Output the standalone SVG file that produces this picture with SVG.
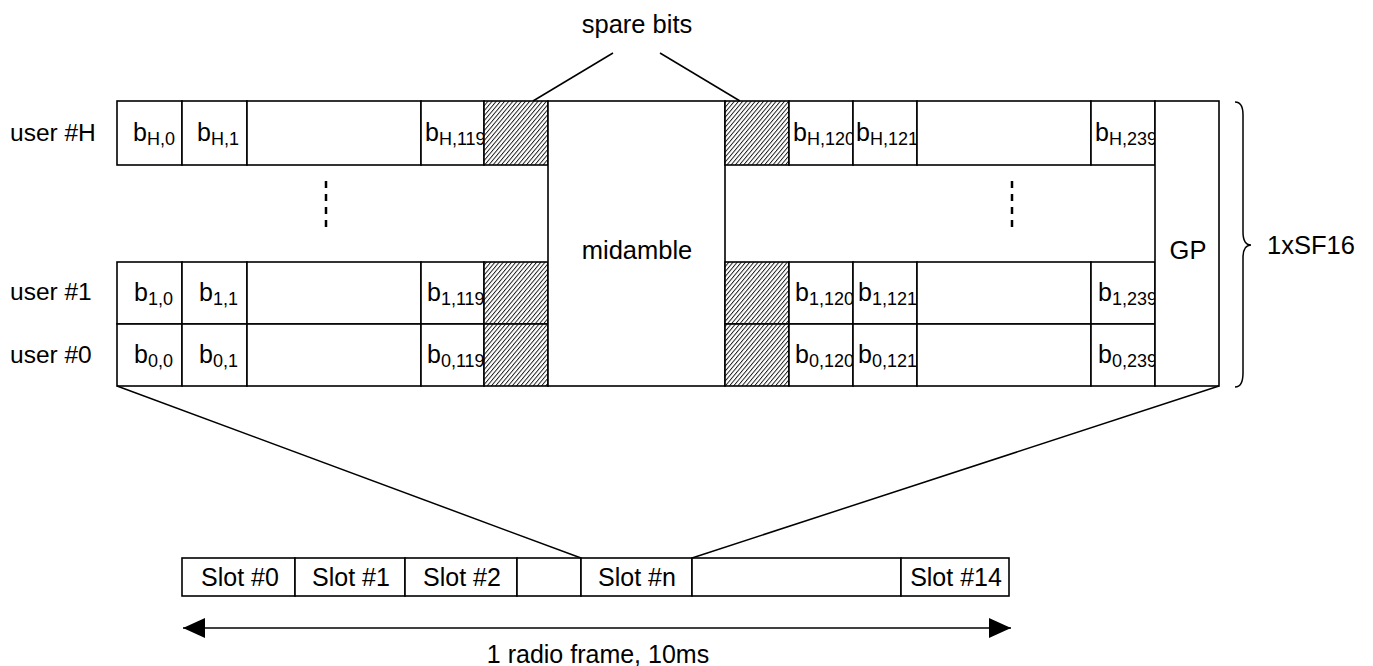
<svg xmlns="http://www.w3.org/2000/svg" width="1373" height="666" viewBox="0 0 1373 666">
<style>
text { font-family: "Liberation Sans", Arial, sans-serif; font-size: 25.5px; fill: #000; }
.u { font-size: 24.5px; }
.s { font-size: 25px; }
.b { font-size: 25px; }
.sub { font-size: 18px; }
.box { fill: #fff; stroke: #000; stroke-width: 1.6; }
.hat { fill: url(#hatch); stroke: #000; stroke-width: 1.6; }
.ln { fill: none; stroke: #000; stroke-width: 1.5; }
.dash { fill: none; stroke: #000; stroke-width: 2.5; stroke-dasharray: 7 6; }
</style>
<defs>
<pattern id="hatch" width="3.2" height="3.2" patternUnits="userSpaceOnUse" patternTransform="rotate(40)">
<rect width="3.2" height="3.2" fill="#fff"/>
<line x1="0.5" y1="0" x2="0.5" y2="3.2" stroke="#000" stroke-width="0.85"/>
</pattern>
<marker id="ah" viewBox="0 0 22 20" refX="22" refY="10" markerWidth="22" markerHeight="20" markerUnits="userSpaceOnUse" orient="auto-start-reverse">
<path d="M0,0 L22,10 L0,20 Z" fill="#000"/>
</marker>
</defs>

<g id="labels">
<text class="u" x="10" y="141">user #H</text>
<text class="u" x="10" y="300">user #1</text>
<text class="u" x="10" y="363">user #0</text>
<text x="637" y="33" text-anchor="middle">spare bits</text>
</g>

<g id="row-H-left">
<rect class="box" x="117" y="101" width="65" height="64"/>
<text class="b" x="133" y="141">b<tspan class="sub" dy="4">H,0</tspan></text>
<rect class="box" x="182" y="101" width="65" height="64"/>
<text class="b" x="197" y="141">b<tspan class="sub" dy="4">H,1</tspan></text>
<rect class="box" x="247" y="101" width="174" height="64"/>
<rect class="box" x="421" y="101" width="63" height="64"/>
<text class="b" x="425" y="141">b<tspan class="sub" dy="4">H,119</tspan></text>
<rect class="hat" x="484" y="101" width="64" height="64"/>
</g>

<g id="row-1-left">
<rect class="box" x="117" y="262" width="65" height="62"/>
<text class="b" x="134" y="301">b<tspan class="sub" dy="4">1,0</tspan></text>
<rect class="box" x="182" y="262" width="65" height="62"/>
<text class="b" x="199" y="301">b<tspan class="sub" dy="4">1,1</tspan></text>
<rect class="box" x="247" y="262" width="174" height="62"/>
<rect class="box" x="421" y="262" width="63" height="62"/>
<text class="b" x="427" y="301">b<tspan class="sub" dy="4">1,119</tspan></text>
<rect class="hat" x="484" y="262" width="64" height="62"/>
</g>

<g id="row-0-left">
<rect class="box" x="117" y="324" width="65" height="62"/>
<text class="b" x="134" y="363">b<tspan class="sub" dy="4">0,0</tspan></text>
<rect class="box" x="182" y="324" width="65" height="62"/>
<text class="b" x="199" y="363">b<tspan class="sub" dy="4">0,1</tspan></text>
<rect class="box" x="247" y="324" width="174" height="62"/>
<rect class="box" x="421" y="324" width="63" height="62"/>
<text class="b" x="427" y="363">b<tspan class="sub" dy="4">0,119</tspan></text>
<rect class="hat" x="484" y="324" width="64" height="62"/>
</g>

<g id="midamble">
<rect class="box" x="548" y="101" width="177" height="285"/>
<text x="637" y="259" text-anchor="middle">midamble</text>
</g>

<g id="row-H-right">
<rect class="hat" x="725" y="101" width="64" height="64"/>
<rect class="box" x="789" y="101" width="64" height="64"/>
<text class="b" x="793" y="141">b<tspan class="sub" dy="4">H,120</tspan></text>
<rect class="box" x="853" y="101" width="64" height="64"/>
<text class="b" x="856" y="141">b<tspan class="sub" dy="4">H,121</tspan></text>
<rect class="box" x="917" y="101" width="174" height="64"/>
<rect class="box" x="1091" y="101" width="64" height="64"/>
<text class="b" x="1095" y="141">b<tspan class="sub" dy="4">H,239</tspan></text>
</g>

<g id="row-1-right">
<rect class="hat" x="725" y="262" width="64" height="62"/>
<rect class="box" x="789" y="262" width="64" height="62"/>
<text class="b" x="795" y="301">b<tspan class="sub" dy="4">1,120</tspan></text>
<rect class="box" x="853" y="262" width="64" height="62"/>
<text class="b" x="858" y="301">b<tspan class="sub" dy="4">1,121</tspan></text>
<rect class="box" x="917" y="262" width="174" height="62"/>
<rect class="box" x="1091" y="262" width="64" height="62"/>
<text class="b" x="1098" y="301">b<tspan class="sub" dy="4">1,239</tspan></text>
</g>

<g id="row-0-right">
<rect class="hat" x="725" y="324" width="64" height="62"/>
<rect class="box" x="789" y="324" width="64" height="62"/>
<text class="b" x="795" y="363">b<tspan class="sub" dy="4">0,120</tspan></text>
<rect class="box" x="853" y="324" width="64" height="62"/>
<text class="b" x="858" y="363">b<tspan class="sub" dy="4">0,121</tspan></text>
<rect class="box" x="917" y="324" width="174" height="62"/>
<rect class="box" x="1091" y="324" width="64" height="62"/>
<text class="b" x="1098" y="363">b<tspan class="sub" dy="4">0,239</tspan></text>
</g>

<g id="gp">
<rect class="box" x="1155" y="101" width="64" height="285"/>
<text x="1188" y="259" text-anchor="middle">GP</text>
</g>

<g id="sf16">
<path class="ln" d="M1235,102 Q1243,102 1243,115 L1243,232 Q1243,245 1251,245 Q1243,245 1243,258 L1243,373 Q1243,387 1235,387"/>
<text x="1267" y="254">1xSF16</text>
</g>

<g id="slots">
<rect class="box" x="182" y="558" width="113" height="38"/>
<text class="s" x="240" y="586" text-anchor="middle">Slot #0</text>
<rect class="box" x="295" y="558" width="110" height="38"/>
<text class="s" x="351" y="586" text-anchor="middle">Slot #1</text>
<rect class="box" x="405" y="558" width="112" height="38"/>
<text class="s" x="462" y="586" text-anchor="middle">Slot #2</text>
<rect class="box" x="517" y="558" width="64" height="38"/>
<rect class="box" x="581" y="558" width="111" height="38"/>
<text class="s" x="637" y="586" text-anchor="middle">Slot #n</text>
<rect class="box" x="692" y="558" width="209" height="38"/>
<rect class="box" x="901" y="558" width="108" height="38"/>
<text class="s" x="956" y="586" text-anchor="middle">Slot #14</text>
</g>

<g id="connectors">
<line class="ln" x1="613" y1="53" x2="533" y2="101"/>
<line class="ln" x1="660" y1="53" x2="740" y2="101"/>
<line class="dash" x1="326" y1="181" x2="326" y2="230"/>
<line class="dash" x1="1012" y1="181" x2="1012" y2="230"/>
<line class="ln" x1="117" y1="386" x2="581" y2="558"/>
<line class="ln" x1="1219" y1="386" x2="692" y2="558"/>
<line class="ln" x1="183" y1="628" x2="1011" y2="628" marker-start="url(#ah)" marker-end="url(#ah)"/>
</g>

<g id="frame-label">
<text class="s" x="598" y="663" text-anchor="middle">1 radio frame, 10ms</text>
</g>
</svg>
